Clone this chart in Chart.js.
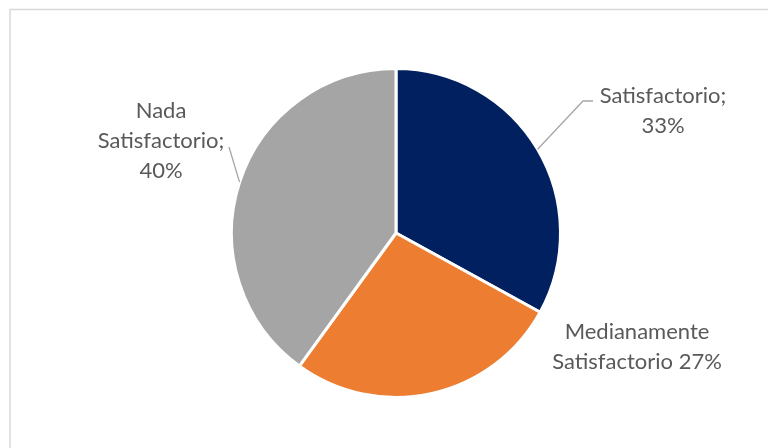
<!DOCTYPE html>
<html>
<head>
<meta charset="utf-8">
<script src="https://cdn.jsdelivr.net/npm/chart.js@4.4.1/dist/chart.umd.min.js"></script>
<style>
  html, body { margin: 0; padding: 0; background: #fff; }
  #wrap { width: 768px; height: 448px; }
</style>
</head>
<body>
<div id="wrap"><canvas id="chart" width="768" height="448"></canvas></div>
<script>
const categories = ['Satisfactorio', 'Medianamente Satisfactorio', 'Nada Satisfactorio'];
const values = [33, 27, 40];
const colors = ['#002060', '#ED7D31', '#A5A5A5'];

// label text lines and where their first line sits relative to the pie centre
const labelLines = [
  ['Satisfactorio;', values[0] + '%'],
  ['Medianamente', 'Satisfactorio ' + values[1] + '%'],
  ['Nada', 'Satisfactorio;', values[2] + '%']
];
const labelOffsets = [[267, -137], [241, 99], [-235, -122]];
const leaders = [true, false, true];

// thin frame like the office chart border
const framePlugin = {
  id: 'frame',
  beforeDraw(chart) {
    const c = chart.ctx;
    c.save();
    c.strokeStyle = '#D9D9D9';
    c.lineWidth = 1.5;
    c.strokeRect(10, 9.5, 800, 500);
    c.restore();
  }
};

const labelPlugin = {
  id: 'pieLabels',
  afterDatasetsDraw(chart) {
    const c = chart.ctx;
    const arcs = chart.getDatasetMeta(0).data;
    c.save();
    c.font = '22px Lato, "Open Sans", sans-serif';
    c.fillStyle = '#595959';
    c.textAlign = 'center';
    c.textBaseline = 'middle';
    arcs.forEach((arc, i) => {
      const p = arc.getProps(['x', 'y', 'startAngle', 'endAngle', 'outerRadius'], true);
      const mid = (p.startAngle + p.endAngle) / 2;
      const ex = p.x + Math.cos(mid) * p.outerRadius;
      const ey = p.y + Math.sin(mid) * p.outerRadius;
      const lx = p.x + labelOffsets[i][0];
      const top = p.y + labelOffsets[i][1];
      const lines = labelLines[i];
      const lh = 30;
      if (leaders[i]) {
        c.strokeStyle = '#A6A6A6';
        c.lineWidth = 1.3;
        c.beginPath();
        c.moveTo(ex, ey);
        if (i === 0) {
          c.lineTo(lx - 80, top + 5);
          c.lineTo(lx - 70, top + 5);
        } else {
          c.lineTo(lx + 68, top + 36);
        }
        c.stroke();
      }
      lines.forEach((t, k) => c.fillText(t, lx, top + k * lh));
    });
    c.restore();
  }
};

new Chart(document.getElementById('chart'), {
  type: 'pie',
  data: {
    labels: categories,
    datasets: [{
      data: values,
      backgroundColor: colors,
      borderColor: '#FFFFFF',
      borderWidth: 3
    }]
  },
  options: {
    responsive: false,
    animation: false,
    layout: { padding: { left: 24, right: 0, top: 67, bottom: 49 } },
    plugins: {
      legend: { display: false },
      tooltip: { enabled: false }
    }
  },
  plugins: [framePlugin, labelPlugin]
});
</script>
</body>
</html>
